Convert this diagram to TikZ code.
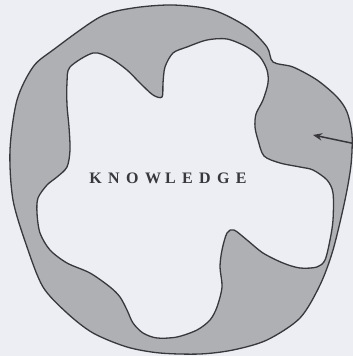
\documentclass[tikz,border=0pt]{standalone}
\usepackage{fontspec}
\setmainfont{Liberation Serif}
\usetikzlibrary{arrows.meta}
\definecolor{paper}{RGB}{236,238,243}
\definecolor{shade}{RGB}{174,176,180}
\definecolor{ink}{RGB}{55,55,60}

\begin{document}
\begin{tikzpicture}[
    x=1pt, y=-1pt,
    every node/.style={font=\fontsize{16}{16}\selectfont\bfseries, text=ink},
    blob/.style={draw=ink, line width=1.3pt, fill=shade},
    core/.style={draw=ink, line width=1.3pt, fill=paper},
    flow/.style={-{Stealth[length=3.2mm, width=2.6mm]}, line width=1.5pt, draw=ink}
]
\fill[paper] (0,0) rectangle (353,356);
\useasboundingbox (0,0) rectangle (353,356);
% outer region
\draw[blob] plot[smooth cycle, tension=0.5] coordinates {
    (53,50) (100,17) (133,8) (173,5) (213,10) (247,27) (267,47) (273,62)
    (293,67) (317,80) (337,97) (347,112) (352,135) (351,165) (345,200)
    (333,250) (320,285) (300,318) (267,340) (233,350) (200,354) (160,353)
    (127,347) (93,333) (67,313) (43,287) (27,247) (13,200) (10,150)
    (17,100) (33,67)};
% inner region
\draw[core] plot[smooth cycle, tension=0.5] coordinates {
    (70,67) (93,53) (110,58) (127,70) (140,83) (153,95) (162,97)
    (163,83) (165,67) (173,53) (187,47) (207,40) (227,39) (247,47)
    (260,57) (267,70) (268,83) (263,100) (256,114) (255,127) (258,140)
    (264,156) (280,163) (300,167) (313,170) (327,180) (333,193) (333,220)
    (330,240) (325,260) (317,267) (300,268) (283,263) (263,253) (247,240)
    (234,230) (227,233) (222,250) (220,267) (222,287) (217,307) (210,320)
    (197,330) (177,337) (157,338) (143,333) (133,323) (127,310) (120,297)
    (110,287) (90,273) (67,263) (50,250) (40,233) (37,213) (38,198)
    (47,185) (57,177) (67,167) (70,150) (69,127) (67,105) (67,83)};
\node (label) at (168,178) {\addfontfeature{LetterSpace=40}KNOW\hspace{4pt}LEDGE};
\coordinate (tail) at (356,144);
\coordinate (tip) at (313,135);
\draw[flow] (tail) -- (tip);
\end{tikzpicture}
\end{document}
